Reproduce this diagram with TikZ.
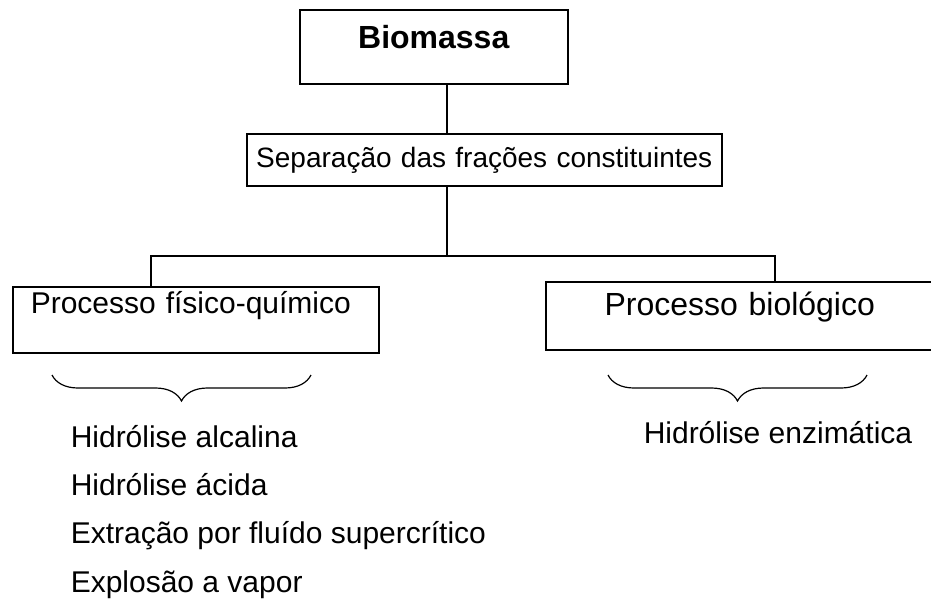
\documentclass[tikz,border=0pt]{standalone}
\usepackage{fontspec}
\setmainfont{Liberation Sans}
\usetikzlibrary{decorations.pathreplacing}

\begin{document}
\begin{tikzpicture}[x=1pt, y=-1pt, line width=1.5pt,
box_style/.style={draw=black, rectangle, inner sep=0pt, anchor=north west, align=center},
item_style/.style={anchor=base west, inner sep=0pt, font=\fontsize{30}{36}\selectfont},
edge_style/.style={draw=black, line width=1.5pt},
brace_style/.style={draw=black, decorate, decoration={brace, mirror, amplitude=26pt}, line width=1.2pt}]
\useasboundingbox (0,0) rectangle (931,603);

\node[box_style, text width=268pt, text height=39pt, text depth=35pt, font=\bfseries\fontsize{32}{38}\selectfont] (bio) at (299,9) {Biomassa};
\node[box_style, text width=475pt, text height=34pt, text depth=18pt, font=\fontsize{28}{34}\selectfont] (sep) at (246,133) {Separação das frações constituintes};
\node[box_style, align=left, inner xsep=18pt, text width=330pt, text height=27pt, text depth=39pt, font=\fontsize{30}{36}\selectfont] (fq) at (12,286) {Processo físico-químico};
\node[box_style, text width=388pt, text height=34pt, text depth=34pt, font=\fontsize{32}{38}\selectfont] (bl) at (545,281) {Processo biológico};

% ligacoes
\coordinate (mid) at (447,256);
\coordinate (lft) at (151,256);
\coordinate (rgt) at (775,256);
\draw[edge_style] (bio.south -| mid) -- (sep.north -| mid);
\draw[edge_style] (sep.south -| mid) -- (mid);
\draw[edge_style] (fq.north -| lft) -- (lft) -- (rgt) -- (bl.north -| rgt);

% chaves
\draw[brace_style] (52,375) -- (311,375);
\draw[brace_style] (608,375) -- (867,375);

\node[item_style] (alc) at (70,447) {Hidrólise alcalina};
\node[item_style] (aci) at (70,495) {Hidrólise ácida};
\node[item_style] (sup) at (70,543) {Extração por fluído supercrítico};
\node[item_style] (vap) at (70,592) {Explosão a vapor};
\node[item_style] (enz) at (643,443) {Hidrólise enzimática};
\end{tikzpicture}
\end{document}
